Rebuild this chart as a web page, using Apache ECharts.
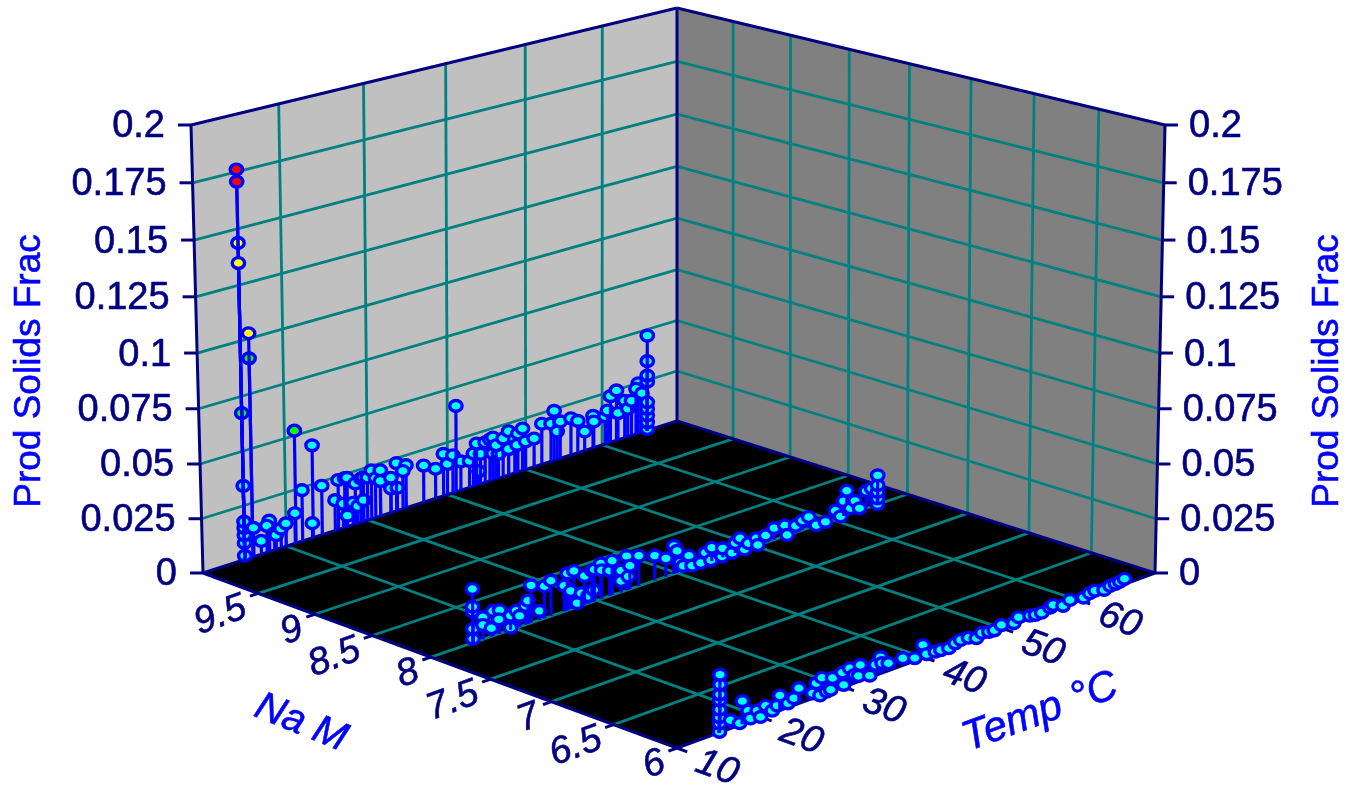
<!DOCTYPE html>
<html><head><meta charset="utf-8">
<style>html,body{margin:0;padding:0;background:#fff}#c{width:1347px;height:786px}</style>
<script src="https://cdn.jsdelivr.net/npm/echarts@6/dist/echarts.min.js"></script>
</head><body><div id="c"></div>
<script>
// ---------- tick values ----------
const solidsTicks = [0, 0.025, 0.05, 0.075, 0.1, 0.125, 0.15, 0.175, 0.2];
const solidsLabels = ['0', '0.025', '0.05', '0.075', '0.1', '0.125', '0.15', '0.175', '0.2'];
const naTicks = [10, 9.5, 9, 8.5, 8, 7.5, 7, 6.5, 6];
const naLabels = ['', '9.5', '9', '8.5', '8', '7.5', '7', '6.5', '6'];
const tempTicks = [10, 20, 30, 40, 50, 60, 70];
const tempLabels = ['10', '20', '30', '40', '50', '60', ''];
// ---------- data: [Temp °C, Prod Solids Frac] at one Na M level ----------
const naLevels = [10, 8, 6];
const rowNa10 = [
[15,.0018],[15,.0077],[15,.0114],[15,.0147],[15,.0176],[15,.0341],[15,.0674],[15,.1437],[15,.176],[15,.1707],[15,.1348],
[16,.0911],[16,.1024],[16.1,.0134],[18,.0144],[17.7,.0124],[17,.0062],[18.6,.0079],[18.8,.0067],[19.4,.009],[20,.0107],
[21.2,.0523],[23.3,.0431],[21.1,.0141],[22,.0238],[23.2,.0069],[24.4,.023],[26,.0143],[26.4,.0233],[27,.0114],[27.2,.0232],[27.5,.023],[27.5,.0052],
[28.2,.0104],[28.5,.0192],[28.8,.0081],[29.2,.0206],[29.5,.0209],[29.5,.0101],[30,.0202],[30.5,.0229],[31,.0186],[31.6,.0217],[31.6,.0166],
[32.9,.0166],[32.9,.0115],[33.7,.0109],[33.6,.0227],[34.8,.0203],[34.4,.018],[37,.0175],[38.5,.0142],[39.5,.0201],[40,.0147],[40.7,.018],
[41.7,.0139],[41.1,.0411],[42.8,.0128],[44,.0065],[43.3,.0158],[44.2,.0146],[43.7,.0201],[44.8,.0194],[45.4,.02],[45.8,.0205],[45.8,.0129],
[46.5,.0119],[46.2,.0163],[47.1,.0185],[47.8,.0212],[47.8,.0126],[48.6,.0165],[49,.0187],[48.9,.0133],[49.6,.0204],[50,.0137],[51.1,.0138],
[52.1,.0198],[53.3,.0184],[53.7,.0242],[54.1,.0137],[54.5,.0181],[55.9,.018],[56.8,.0157],[57.7,.0094],[58.8,.0158],[58.9,.0129],[60.4,.0137],
[60.7,.0162],[61.1,.0228],[61.9,.0247],[62.1,.0133],[63,.0183],[63.4,.0139],[63.9,.0173],[64.8,.0249],[64.5,.0225],[65.3,.0194],
[66,.0008],[66,.0041],[66,.0075],[66,.0108],[66,.0141],[66,.0243],[66,.0273],[66,.0344],[66,.047]
];
const rowNa8 = [
[15,.0017],[15,.0062],[15,.0139],[15,.0161],[15,.024],[16.2,.0099],[16.2,.0064],[17.4,.0112],[18.2,.0105],[17.2,.0037],[18.1,.0065],
[19.5,.001],[19.5,.0064],[20.2,.0078],[20.6,.0049],[21.3,.0086],[21.6,.0105],[23,.0041],[22,.0169],[23.6,.0145],[24.4,.016],[26,.0117],
[26.4,.0168],[27.2,.0169],[26.8,.0083],[27.6,.0018],[28.1,.0057],[28.9,.0034],[29.6,.0053],[28.5,.013],[29.4,.0143],[29.7,.0145],[30.5,.0162],
[30.6,.013],[31.6,.0115],[31.9,.0157],[33,.0098],[33,.0051],[33.7,.0156],[33.9,.006],[34.1,.0107],[35.2,.0139],[37.2,.0115],[38.6,.0085],
[39.6,.013],[40,.0102],[40.4,.0043],[40.8,.0023],[41.5,.0061],[41.9,.001],[43,.0009],[43.6,.0049],[44.3,.0005],[44.4,.0062],[45.7,.0005],
[45.8,.0042],[47,.0006],[47.4,.0047],[48,.0062],[48.6,.0002],[49.1,.0025],[50.1,.0036],[50.3,.0002],[51.3,.0034],[52.4,.0055],[53.8,.005],
[54.1,.0002],[55.2,.0032],[56.1,.0045],[56.9,.0052],[57.9,.0001],[59.1,.0002],[60.4,.0039],[61.1,.0003],[61.5,.0071],[61.9,.0115],[62.4,.0026],
[63,.0054],[63.6,.0011],[64.5,.0083],[65.2,.0086],[65.7,.0036],[66,.0002],[66,.0029],[66,.006],[66,.0092],[66,.0139]
];
const rowNa6 = [
[15,.0003],[15,.0039],[15,.0066],[15,.0099],[15,.0139],[15,.0164],[15,.0207],[15,.025],[16.3,.0036],[17.4,.0008],[17.7,.01],[18.4,.0049],
[18.7,.0012],[19.5,.0035],[19.9,.0002],[20.5,.0043],[21.3,.0011],[21.9,.0025],[22.2,.0065],[23.2,.0018],[23.9,.0031],[24.5,.0067],[26.2,.0022],
[26.6,.0061],[27.1,.0001],[27.3,.0076],[27.9,.0007],[28.6,.0058],[28.4,.0009],[29.8,.0066],[30,.0009],[30.7,.0073],[31.3,.0036],[32,.0071],
[31.8,.0025],[33.2,.0008],[33.9,.0047],[34.5,.0073],[34.7,.0044],[35.5,.0033],[37.3,.0032],[38.8,.0013],[39.8,.0058],[40.3,.0011],[41.4,.0008],
[42.1,.0006],[43.1,.0001],[43.9,.0013],[44.6,.0019],[45.6,.0016],[46.6,.0001],[47.3,.0016],[48.2,.0009],[48.9,.0007],[49.8,.0019],[51.4,.0007],
[52,.0026],[53.5,.0014],[54.2,.0009],[55,.0008],[56.1,.0017],[56.5,.0024],[57.8,.0004],[58.7,.0019],[60.5,.0007],[61.3,.0017],[62,.002],
[63.2,.0008],[64,.0016],[64.7,.0017],[65.3,.0019],[65.9,.0025]
];
// colour bands of the marker fill
const bandLimits = [0.05, 0.1, 0.15, 0.2];
const bandColors = ['#00ffff', '#00ff00', '#ffff00', '#ff0000'];

// ---------- perspective scale built from the box corners ----------
const tMin = 10, tMax = 70, naMax = 10, naMin = 6, sMax = 0.2;
function quad(p0, p1, p2, p3) {
  const dx1 = p1[0]-p2[0], dx2 = p3[0]-p2[0], sx = p0[0]-p1[0]+p2[0]-p3[0];
  const dy1 = p1[1]-p2[1], dy2 = p3[1]-p2[1], sy = p0[1]-p1[1]+p2[1]-p3[1];
  const den = dx1*dy2-dx2*dy1;
  const g = (sx*dy2-dx2*sy)/den, h = (dx1*sy-sx*dy1)/den;
  const a = p1[0]-p0[0]+g*p1[0], b = p3[0]-p0[0]+h*p3[0];
  const d = p1[1]-p0[1]+g*p1[1], e = p3[1]-p0[1]+h*p3[1];
  return (u, v) => { const w = g*u+h*v+1; return [(a*u+b*v+p0[0])/w, (d*u+e*v+p0[1])/w]; };
}
const floorQ = quad([203,573],[677,421],[1155,573],[677,748]);
const topQ = quad([191,125],[677,8],[1165,125],[680,268]);
function project(t, na, s) {
  const u = (t-tMin)/(tMax-tMin), v = (naMax-na)/(naMax-naMin), w = s/sMax;
  const f = floorQ(u, v), g = topQ(u, v);
  const k = w*0.9646/(1-0.0354*w);
  return [f[0]+(g[0]-f[0])*k, f[1]+(g[1]-f[1])*k];
}
const NAVY = '#000080', TEAL = '#008080', BLUE = '#0000ff';
const FONT = '"Liberation Sans", Arial, sans-serif';

// ---------- box: panels, grid lines, frame, ticks, labels as library items ----------
const panels = [
  {c:'#c0c0c0', p:[[tMin,naMax,0],[tMax,naMax,0],[tMax,naMax,sMax],[tMin,naMax,sMax]]},
  {c:'#808080', p:[[tMax,naMax,0],[tMax,naMin,0],[tMax,naMin,sMax],[tMax,naMax,sMax]]},
  {c:'#000000', p:[[tMin,naMax,0],[tMax,naMax,0],[tMax,naMin,0],[tMin,naMin,0]]}
];
const gridSegs = [];
tempTicks.slice(1,-1).forEach(t => {
  gridSegs.push([[t,naMax,0],[t,naMax,sMax]]);
  gridSegs.push([[t,naMax,0],[t,naMin,0]]);
});
naTicks.slice(1,-1).forEach(n => {
  gridSegs.push([[tMax,n,0],[tMax,n,sMax]]);
  gridSegs.push([[tMin,n,0],[tMax,n,0]]);
});
solidsTicks.slice(1,-1).forEach(s => {
  gridSegs.push([[tMin,naMax,s],[tMax,naMax,s]]);
  gridSegs.push([[tMax,naMax,s],[tMax,naMin,s]]);
});
const frameSegs = [
  [[tMin,naMax,0],[tMin,naMax,sMax]], [[tMax,naMax,0],[tMax,naMax,sMax]], [[tMax,naMin,0],[tMax,naMin,sMax]],
  [[tMin,naMax,sMax],[tMax,naMax,sMax]], [[tMax,naMax,sMax],[tMax,naMin,sMax]],
  [[tMin,naMax,0],[tMax,naMax,0]], [[tMax,naMax,0],[tMax,naMin,0]],
  [[tMin,naMax,0],[tMin,naMin,0]], [[tMin,naMin,0],[tMax,naMin,0]]
];
naTicks.slice(1).forEach(n => frameSegs.push([[tMin,n,0],[tMin-1,n,0]]));
tempTicks.forEach((t,i) => { if (tempLabels[i]) frameSegs.push([[t,naMin,0],[t,naMin-0.08,0]]); });
const stubSegs = solidsTicks.map(s => ({at:[tMin,naMax,s], d:-13})).concat(solidsTicks.map(s => ({at:[tMax,naMin,s], d:13})));

const texts = [];
solidsTicks.forEach((s,i) => {
  texts.push({at:[tMin,naMax,s], dx:-26, dy:2, align:'right', rot:0, text:solidsLabels[i], size:38, color:NAVY});
  texts.push({at:[tMax,naMin,s], dx:24, dy:2, align:'left', rot:0, text:solidsLabels[i], size:38, color:NAVY});
});
naTicks.forEach((n,i) => { if (naLabels[i]) texts.push({at:[tMin,n,0], dx:-13, dy:13, align:'right', rot:20, text:naLabels[i], size:38, color:NAVY, italic:true}); });
tempTicks.forEach((t,i) => { if (tempLabels[i]) texts.push({at:[t,naMin,0], dx:40, dy:20, align:'center', rot:-20, text:tempLabels[i], size:38, color:NAVY, italic:true}); });
texts.push({at:[tMin,naMax,0.1], dx:-167, dy:18, align:'center', rot:90, text:'Prod Solids Frac', size:37, color:BLUE});
texts.push({at:[tMax,naMin,0.1], dx:168, dy:18, align:'center', rot:90, text:'Prod Solids Frac', size:37, color:BLUE});
texts.push({at:[tMin,8,0], dx:-130, dy:66, align:'center', rot:-22, text:'Na M', size:40, color:BLUE, italic:true});
texts.push({at:[40,naMin,0], dx:116, dy:55, align:'center', rot:20, text:'Temp °C', size:42, color:BLUE, italic:true});

function pt(api, q) { return api.coord(project(q[0], q[1], q[2])); }
function segSeries(segs, color, width, z) {
  return {type:'custom', coordinateSystem:'cartesian2d', silent:true, clip:false, z:z, animation:false,
    data: segs.map((_,i)=>[i]),
    renderItem:(p, api) => { const s = segs[p.dataIndex]; const a = pt(api,s[0]), b = pt(api,s[1]);
      return {type:'line', shape:{x1:a[0],y1:a[1],x2:b[0],y2:b[1]}, style:{stroke:color, lineWidth:width, lineCap:'butt'}}; },
    encode:{x:0,y:0}};
}
function rowSeries(na, row, z) {
  return {type:'custom', name:'Na '+na, coordinateSystem:'cartesian2d', clip:false, silent:true, z:z, animation:false,
    data: row,
    encode:{x:0,y:1},
    renderItem:(p, api) => {
      const t = api.value(0), s = api.value(1);
      const base = api.coord(project(t, na, 0)), top = api.coord(project(t, na, s));
      let band = bandLimits.findIndex(l => s < l); if (band < 0) band = bandColors.length-1;
      return {type:'group', children:[
        {type:'line', shape:{x1:base[0],y1:base[1],x2:top[0],y2:top[1]}, style:{stroke:BLUE, lineWidth:3.2}},
        {type:'ellipse', shape:{cx:top[0],cy:top[1],rx:6.2,ry:5.4}, style:{fill:bandColors[band], stroke:BLUE, lineWidth:3.4}}
      ]};
    }};
}
const option = {
  backgroundColor:'#ffffff', animation:false,
  grid:{left:0,right:0,top:0,bottom:0},
  xAxis:{type:'value',min:0,max:1347,show:false},
  yAxis:{type:'value',min:0,max:786,inverse:true,show:false},
  series:[
    {type:'custom', coordinateSystem:'cartesian2d', silent:true, clip:false, z:1, animation:false,
     data:panels.map((_,i)=>[i]), encode:{x:0,y:0},
     renderItem:(p,api)=>({type:'polygon', shape:{points:panels[p.dataIndex].p.map(q=>pt(api,q))}, style:{fill:panels[p.dataIndex].c}})},
    segSeries(gridSegs, TEAL, 2.8, 2),
    segSeries(frameSegs, NAVY, 3, 3),
    {type:'custom', coordinateSystem:'cartesian2d', silent:true, clip:false, z:3, animation:false,
     data:stubSegs.map((_,i)=>[i]), encode:{x:0,y:0},
     renderItem:(p,api)=>{ const o=stubSegs[p.dataIndex]; const a=pt(api,o.at);
       return {type:'line', shape:{x1:a[0],y1:a[1],x2:a[0]+o.d,y2:a[1]}, style:{stroke:NAVY, lineWidth:3}}; }},
    ...naLevels.map((n,i)=>rowSeries(n,[rowNa10,rowNa8,rowNa6][i],4+i)),
    {type:'custom', coordinateSystem:'cartesian2d', silent:true, clip:false, z:8, animation:false,
     data:texts.map((_,i)=>[i]), encode:{x:0,y:0},
     renderItem:(p,api)=>{ const o=texts[p.dataIndex]; const c=pt(api,o.at);
       return {type:'text', x:c[0]+o.dx, y:c[1]+o.dy, rotation:o.rot*Math.PI/180,
         style:{text:o.text, fill:o.color, stroke:o.color, lineWidth:0.6, align:o.align, verticalAlign:'middle',
                font:(o.italic?'italic ':'')+o.size+'px '+FONT}}; }}
  ]
};
const chart = echarts.init(document.getElementById('c'), null, {renderer:'canvas'});
chart.setOption(option);
</script></body></html>
